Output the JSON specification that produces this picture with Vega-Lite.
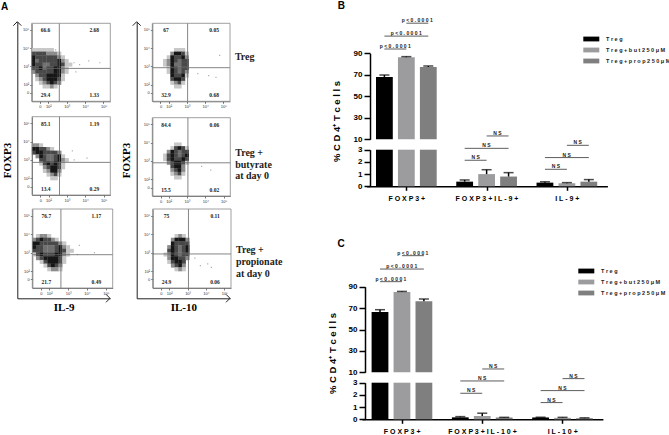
{
"$schema":"https://vega.github.io/schema/vega-lite/v6.json",
"width":669,"height":435,"autosize":{"type":"none"},"padding":0,"background":"white",
"config":{"view":{"stroke":null},"axis":{"grid":false,"title":null,"labelFontSize":4,"labelFont":"Liberation Sans","labelColor":"#333","tickSize":2,"tickWidth":0.6,"tickColor":"#222","domainColor":"#222","domainWidth":0.6,"labelPadding":1}},
"datasets":{
"cells":[
{"p":1,"x":1.2,"y":3.9,"d":1},{"p":1,"x":1.4,"y":3.9,"d":1},{"p":1,"x":1.6,"y":3.9,"d":1},{"p":1,"x":1.8,"y":3.9,"d":1},{"p":1,"x":2.0,"y":3.9,"d":1},{"p":1,"x":2.2,"y":3.9,"d":1},{"p":1,"x":2.4,"y":3.9,"d":0},
{"p":1,"x":1.2,"y":3.7,"d":3},{"p":1,"x":1.4,"y":3.7,"d":3},{"p":1,"x":1.6,"y":3.7,"d":3},{"p":1,"x":1.8,"y":3.7,"d":3},{"p":1,"x":2.0,"y":3.7,"d":2},{"p":1,"x":2.2,"y":3.7,"d":2},{"p":1,"x":2.4,"y":3.7,"d":2},{"p":1,"x":2.6,"y":3.7,"d":1},
{"p":1,"x":1.2,"y":3.5,"d":4},{"p":1,"x":1.4,"y":3.5,"d":3},{"p":1,"x":1.6,"y":3.5,"d":3},{"p":1,"x":1.8,"y":3.5,"d":3},{"p":1,"x":2.0,"y":3.5,"d":3},{"p":1,"x":2.2,"y":3.5,"d":3},{"p":1,"x":2.4,"y":3.5,"d":3},{"p":1,"x":2.6,"y":3.5,"d":2},{"p":1,"x":2.8,"y":3.5,"d":1},
{"p":1,"x":1.2,"y":3.3,"d":4},{"p":1,"x":1.4,"y":3.3,"d":5},{"p":1,"x":1.6,"y":3.3,"d":3},{"p":1,"x":1.8,"y":3.3,"d":3},{"p":1,"x":2.0,"y":3.3,"d":3},{"p":1,"x":2.2,"y":3.3,"d":3},{"p":1,"x":2.4,"y":3.3,"d":3},{"p":1,"x":2.6,"y":3.3,"d":4},{"p":1,"x":2.8,"y":3.3,"d":2},{"p":1,"x":3.0,"y":3.3,"d":1},
{"p":1,"x":1.2,"y":3.1,"d":4},{"p":1,"x":1.4,"y":3.1,"d":3},{"p":1,"x":1.6,"y":3.1,"d":3},{"p":1,"x":1.8,"y":3.1,"d":5},{"p":1,"x":2.0,"y":3.1,"d":5},{"p":1,"x":2.2,"y":3.1,"d":3},{"p":1,"x":2.4,"y":3.1,"d":3},{"p":1,"x":2.6,"y":3.1,"d":4},{"p":1,"x":2.8,"y":3.1,"d":3},{"p":1,"x":3.0,"y":3.1,"d":1},{"p":1,"x":3.2,"y":3.1,"d":1},
{"p":1,"x":1.2,"y":2.9,"d":3},{"p":1,"x":1.4,"y":2.9,"d":3},{"p":1,"x":1.6,"y":2.9,"d":4},{"p":1,"x":1.8,"y":2.9,"d":5},{"p":1,"x":2.0,"y":2.9,"d":3},{"p":1,"x":2.2,"y":2.9,"d":3},{"p":1,"x":2.4,"y":2.9,"d":4},{"p":1,"x":2.6,"y":2.9,"d":4},{"p":1,"x":2.8,"y":2.9,"d":2},{"p":1,"x":3.0,"y":2.9,"d":1},
{"p":1,"x":1.2,"y":2.7,"d":2},{"p":1,"x":1.4,"y":2.7,"d":3},{"p":1,"x":1.6,"y":2.7,"d":3},{"p":1,"x":1.8,"y":2.7,"d":3},{"p":1,"x":2.0,"y":2.7,"d":3},{"p":1,"x":2.2,"y":2.7,"d":3},{"p":1,"x":2.4,"y":2.7,"d":4},{"p":1,"x":2.6,"y":2.7,"d":4},{"p":1,"x":2.8,"y":2.7,"d":2},{"p":1,"x":3.0,"y":2.7,"d":1},
{"p":1,"x":1.4,"y":2.5,"d":2},{"p":1,"x":1.6,"y":2.5,"d":3},{"p":1,"x":1.8,"y":2.5,"d":3},{"p":1,"x":2.0,"y":2.5,"d":4},{"p":1,"x":2.2,"y":2.5,"d":4},{"p":1,"x":2.4,"y":2.5,"d":4},{"p":1,"x":2.6,"y":2.5,"d":4},{"p":1,"x":2.8,"y":2.5,"d":1},
{"p":1,"x":1.4,"y":2.3,"d":1},{"p":1,"x":1.6,"y":2.3,"d":2},{"p":1,"x":1.8,"y":2.3,"d":3},{"p":1,"x":2.0,"y":2.3,"d":4},{"p":1,"x":2.2,"y":2.3,"d":4},{"p":1,"x":2.4,"y":2.3,"d":4},{"p":1,"x":2.6,"y":2.3,"d":3},{"p":1,"x":2.8,"y":2.3,"d":1},
{"p":1,"x":1.6,"y":2.1,"d":1},{"p":1,"x":1.8,"y":2.1,"d":2},{"p":1,"x":2.0,"y":2.1,"d":3},{"p":1,"x":2.2,"y":2.1,"d":4},{"p":1,"x":2.4,"y":2.1,"d":3},{"p":1,"x":2.6,"y":2.1,"d":2},
{"p":1,"x":1.8,"y":1.9,"d":1},{"p":1,"x":2.0,"y":1.9,"d":1},{"p":1,"x":2.2,"y":1.9,"d":2},{"p":1,"x":2.4,"y":1.9,"d":1},
{"p":1,"x":3.4,"y":3.2,"d":0},{"p":1,"x":3.7,"y":3.1,"d":0},{"p":1,"x":4.2,"y":3.3,"d":0},{"p":1,"x":4.8,"y":3.2,"d":0},{"p":1,"x":3.5,"y":2.7,"d":0},
{"p":2,"x":2.4,"y":3.9,"d":1},{"p":2,"x":2.6,"y":3.9,"d":1},{"p":2,"x":2.8,"y":3.9,"d":1},
{"p":2,"x":2.2,"y":3.7,"d":2},{"p":2,"x":2.4,"y":3.7,"d":4},{"p":2,"x":2.6,"y":3.7,"d":4},{"p":2,"x":2.8,"y":3.7,"d":3},{"p":2,"x":3.0,"y":3.7,"d":1},
{"p":2,"x":2.0,"y":3.5,"d":1},{"p":2,"x":2.2,"y":3.5,"d":4},{"p":2,"x":2.4,"y":3.5,"d":3},{"p":2,"x":2.6,"y":3.5,"d":3},{"p":2,"x":2.8,"y":3.5,"d":4},{"p":2,"x":3.0,"y":3.5,"d":2},
{"p":2,"x":1.8,"y":3.3,"d":1},{"p":2,"x":2.0,"y":3.3,"d":2},{"p":2,"x":2.2,"y":3.3,"d":4},{"p":2,"x":2.4,"y":3.3,"d":3},{"p":2,"x":2.6,"y":3.3,"d":5},{"p":2,"x":2.8,"y":3.3,"d":3},{"p":2,"x":3.0,"y":3.3,"d":3},
{"p":2,"x":1.8,"y":3.1,"d":1},{"p":2,"x":2.0,"y":3.1,"d":2},{"p":2,"x":2.2,"y":3.1,"d":4},{"p":2,"x":2.4,"y":3.1,"d":5},{"p":2,"x":2.6,"y":3.1,"d":5},{"p":2,"x":2.8,"y":3.1,"d":3},{"p":2,"x":3.0,"y":3.1,"d":3},
{"p":2,"x":2.0,"y":2.9,"d":1},{"p":2,"x":2.2,"y":2.9,"d":4},{"p":2,"x":2.4,"y":2.9,"d":3},{"p":2,"x":2.6,"y":2.9,"d":5},{"p":2,"x":2.8,"y":2.9,"d":3},{"p":2,"x":3.0,"y":2.9,"d":3},
{"p":2,"x":2.0,"y":2.7,"d":1},{"p":2,"x":2.2,"y":2.7,"d":4},{"p":2,"x":2.4,"y":2.7,"d":3},{"p":2,"x":2.6,"y":2.7,"d":5},{"p":2,"x":2.8,"y":2.7,"d":3},{"p":2,"x":3.0,"y":2.7,"d":2},
{"p":2,"x":2.2,"y":2.5,"d":4},{"p":2,"x":2.4,"y":2.5,"d":3},{"p":2,"x":2.6,"y":2.5,"d":3},{"p":2,"x":2.8,"y":2.5,"d":4},{"p":2,"x":3.0,"y":2.5,"d":1},
{"p":2,"x":2.2,"y":2.3,"d":3},{"p":2,"x":2.4,"y":2.3,"d":4},{"p":2,"x":2.6,"y":2.3,"d":4},{"p":2,"x":2.8,"y":2.3,"d":3},
{"p":2,"x":2.2,"y":2.1,"d":1},{"p":2,"x":2.4,"y":2.1,"d":2},{"p":2,"x":2.6,"y":2.1,"d":3},{"p":2,"x":2.8,"y":2.1,"d":1},
{"p":2,"x":2.4,"y":1.9,"d":1},{"p":2,"x":2.6,"y":1.9,"d":1},
{"p":2,"x":4.2,"y":2.5,"d":0},{"p":2,"x":4.6,"y":2.4,"d":0},{"p":2,"x":3.6,"y":2.6,"d":0},{"p":2,"x":4.8,"y":3.6,"d":0},
{"p":3,"x":1.2,"y":3.8,"d":2},{"p":3,"x":1.4,"y":3.8,"d":2},{"p":3,"x":1.6,"y":3.8,"d":1},
{"p":3,"x":1.2,"y":3.6,"d":4},{"p":3,"x":1.4,"y":3.6,"d":4},{"p":3,"x":1.6,"y":3.6,"d":3},{"p":3,"x":1.8,"y":3.6,"d":3},{"p":3,"x":2.0,"y":3.6,"d":2},{"p":3,"x":2.2,"y":3.6,"d":1},
{"p":3,"x":1.2,"y":3.4,"d":3},{"p":3,"x":1.4,"y":3.4,"d":4},{"p":3,"x":1.6,"y":3.4,"d":4},{"p":3,"x":1.8,"y":3.4,"d":3},{"p":3,"x":2.0,"y":3.4,"d":3},{"p":3,"x":2.2,"y":3.4,"d":3},{"p":3,"x":2.4,"y":3.4,"d":3},{"p":3,"x":2.6,"y":3.4,"d":2},
{"p":3,"x":1.4,"y":3.2,"d":2},{"p":3,"x":1.6,"y":3.2,"d":4},{"p":3,"x":1.8,"y":3.2,"d":3},{"p":3,"x":2.0,"y":3.2,"d":5},{"p":3,"x":2.2,"y":3.2,"d":5},{"p":3,"x":2.4,"y":3.2,"d":3},{"p":3,"x":2.6,"y":3.2,"d":4},{"p":3,"x":2.8,"y":3.2,"d":1},
{"p":3,"x":1.6,"y":3.0,"d":3},{"p":3,"x":1.8,"y":3.0,"d":3},{"p":3,"x":2.0,"y":3.0,"d":5},{"p":3,"x":2.2,"y":3.0,"d":5},{"p":3,"x":2.4,"y":3.0,"d":3},{"p":3,"x":2.6,"y":3.0,"d":4},{"p":3,"x":2.8,"y":3.0,"d":2},{"p":3,"x":3.0,"y":3.0,"d":1},
{"p":3,"x":1.6,"y":2.8,"d":1},{"p":3,"x":1.8,"y":2.8,"d":3},{"p":3,"x":2.0,"y":2.8,"d":4},{"p":3,"x":2.2,"y":2.8,"d":3},{"p":3,"x":2.4,"y":2.8,"d":4},{"p":3,"x":2.6,"y":2.8,"d":3},{"p":3,"x":2.8,"y":2.8,"d":1},
{"p":3,"x":1.8,"y":2.6,"d":2},{"p":3,"x":2.0,"y":2.6,"d":3},{"p":3,"x":2.2,"y":2.6,"d":4},{"p":3,"x":2.4,"y":2.6,"d":4},{"p":3,"x":2.6,"y":2.6,"d":3},{"p":3,"x":2.8,"y":2.6,"d":1},
{"p":3,"x":1.8,"y":2.4,"d":1},{"p":3,"x":2.0,"y":2.4,"d":2},{"p":3,"x":2.2,"y":2.4,"d":4},{"p":3,"x":2.4,"y":2.4,"d":4},{"p":3,"x":2.6,"y":2.4,"d":2},
{"p":3,"x":2.0,"y":2.2,"d":1},{"p":3,"x":2.2,"y":2.2,"d":2},{"p":3,"x":2.4,"y":2.2,"d":3},{"p":3,"x":2.6,"y":2.2,"d":1},
{"p":3,"x":2.2,"y":2.0,"d":1},{"p":3,"x":2.4,"y":2.0,"d":1},
{"p":3,"x":3.4,"y":3.0,"d":0},{"p":3,"x":3.3,"y":3.5,"d":0},{"p":3,"x":4.1,"y":3.1,"d":0},
{"p":4,"x":2.4,"y":3.9,"d":1},{"p":4,"x":2.6,"y":3.9,"d":1},
{"p":4,"x":2.2,"y":3.7,"d":1},{"p":4,"x":2.4,"y":3.7,"d":3},{"p":4,"x":2.6,"y":3.7,"d":4},{"p":4,"x":2.8,"y":3.7,"d":3},{"p":4,"x":3.0,"y":3.7,"d":1},
{"p":4,"x":2.0,"y":3.5,"d":2},{"p":4,"x":2.2,"y":3.5,"d":4},{"p":4,"x":2.4,"y":3.5,"d":3},{"p":4,"x":2.6,"y":3.5,"d":5},{"p":4,"x":2.8,"y":3.5,"d":3},{"p":4,"x":3.0,"y":3.5,"d":3},
{"p":4,"x":1.8,"y":3.3,"d":1},{"p":4,"x":2.0,"y":3.3,"d":3},{"p":4,"x":2.2,"y":3.3,"d":4},{"p":4,"x":2.4,"y":3.3,"d":3},{"p":4,"x":2.6,"y":3.3,"d":5},{"p":4,"x":2.8,"y":3.3,"d":3},{"p":4,"x":3.0,"y":3.3,"d":4},
{"p":4,"x":1.8,"y":3.1,"d":1},{"p":4,"x":2.0,"y":3.1,"d":3},{"p":4,"x":2.2,"y":3.1,"d":4},{"p":4,"x":2.4,"y":3.1,"d":3},{"p":4,"x":2.6,"y":3.1,"d":3},{"p":4,"x":2.8,"y":3.1,"d":4},{"p":4,"x":3.0,"y":3.1,"d":3},
{"p":4,"x":2.0,"y":2.9,"d":2},{"p":4,"x":2.2,"y":2.9,"d":3},{"p":4,"x":2.4,"y":2.9,"d":4},{"p":4,"x":2.6,"y":2.9,"d":4},{"p":4,"x":2.8,"y":2.9,"d":3},{"p":4,"x":3.0,"y":2.9,"d":1},
{"p":4,"x":2.2,"y":2.7,"d":3},{"p":4,"x":2.4,"y":2.7,"d":4},{"p":4,"x":2.6,"y":2.7,"d":4},{"p":4,"x":2.8,"y":2.7,"d":2},
{"p":4,"x":2.2,"y":2.5,"d":2},{"p":4,"x":2.4,"y":2.5,"d":3},{"p":4,"x":2.6,"y":2.5,"d":4},{"p":4,"x":2.8,"y":2.5,"d":2},
{"p":4,"x":2.2,"y":2.3,"d":1},{"p":4,"x":2.4,"y":2.3,"d":2},{"p":4,"x":2.6,"y":2.3,"d":3},{"p":4,"x":2.8,"y":2.3,"d":1},
{"p":4,"x":2.4,"y":2.1,"d":1},{"p":4,"x":2.6,"y":2.1,"d":1},
{"p":4,"x":4.3,"y":2.5,"d":0},{"p":4,"x":3.8,"y":2.7,"d":0},
{"p":5,"x":1.4,"y":3.9,"d":1},{"p":5,"x":1.6,"y":3.9,"d":2},{"p":5,"x":1.8,"y":3.9,"d":2},{"p":5,"x":2.0,"y":3.9,"d":1},
{"p":5,"x":1.2,"y":3.7,"d":2},{"p":5,"x":1.4,"y":3.7,"d":3},{"p":5,"x":1.6,"y":3.7,"d":4},{"p":5,"x":1.8,"y":3.7,"d":3},{"p":5,"x":2.0,"y":3.7,"d":3},{"p":5,"x":2.2,"y":3.7,"d":2},{"p":5,"x":2.4,"y":3.7,"d":1},
{"p":5,"x":1.2,"y":3.5,"d":4},{"p":5,"x":1.4,"y":3.5,"d":4},{"p":5,"x":1.6,"y":3.5,"d":3},{"p":5,"x":1.8,"y":3.5,"d":3},{"p":5,"x":2.0,"y":3.5,"d":3},{"p":5,"x":2.2,"y":3.5,"d":3},{"p":5,"x":2.4,"y":3.5,"d":3},{"p":5,"x":2.6,"y":3.5,"d":2},{"p":5,"x":2.8,"y":3.5,"d":1},
{"p":5,"x":1.2,"y":3.3,"d":4},{"p":5,"x":1.4,"y":3.3,"d":3},{"p":5,"x":1.6,"y":3.3,"d":3},{"p":5,"x":1.8,"y":3.3,"d":5},{"p":5,"x":2.0,"y":3.3,"d":5},{"p":5,"x":2.2,"y":3.3,"d":5},{"p":5,"x":2.4,"y":3.3,"d":3},{"p":5,"x":2.6,"y":3.3,"d":4},{"p":5,"x":2.8,"y":3.3,"d":2},{"p":5,"x":3.0,"y":3.3,"d":1},
{"p":5,"x":1.2,"y":3.1,"d":3},{"p":5,"x":1.4,"y":3.1,"d":3},{"p":5,"x":1.6,"y":3.1,"d":3},{"p":5,"x":1.8,"y":3.1,"d":5},{"p":5,"x":2.0,"y":3.1,"d":5},{"p":5,"x":2.2,"y":3.1,"d":5},{"p":5,"x":2.4,"y":3.1,"d":3},{"p":5,"x":2.6,"y":3.1,"d":4},{"p":5,"x":2.8,"y":3.1,"d":3},{"p":5,"x":3.0,"y":3.1,"d":1},{"p":5,"x":3.2,"y":3.1,"d":1},
{"p":5,"x":1.2,"y":2.9,"d":1},{"p":5,"x":1.4,"y":2.9,"d":3},{"p":5,"x":1.6,"y":2.9,"d":4},{"p":5,"x":1.8,"y":2.9,"d":3},{"p":5,"x":2.0,"y":2.9,"d":3},{"p":5,"x":2.2,"y":2.9,"d":3},{"p":5,"x":2.4,"y":2.9,"d":4},{"p":5,"x":2.6,"y":2.9,"d":4},{"p":5,"x":2.8,"y":2.9,"d":2},{"p":5,"x":3.0,"y":2.9,"d":1},
{"p":5,"x":1.4,"y":2.7,"d":2},{"p":5,"x":1.6,"y":2.7,"d":3},{"p":5,"x":1.8,"y":2.7,"d":4},{"p":5,"x":2.0,"y":2.7,"d":4},{"p":5,"x":2.2,"y":2.7,"d":4},{"p":5,"x":2.4,"y":2.7,"d":4},{"p":5,"x":2.6,"y":2.7,"d":3},{"p":5,"x":2.8,"y":2.7,"d":1},
{"p":5,"x":1.6,"y":2.5,"d":1},{"p":5,"x":1.8,"y":2.5,"d":3},{"p":5,"x":2.0,"y":2.5,"d":4},{"p":5,"x":2.2,"y":2.5,"d":4},{"p":5,"x":2.4,"y":2.5,"d":4},{"p":5,"x":2.6,"y":2.5,"d":3},{"p":5,"x":2.8,"y":2.5,"d":1},
{"p":5,"x":1.8,"y":2.3,"d":1},{"p":5,"x":2.0,"y":2.3,"d":3},{"p":5,"x":2.2,"y":2.3,"d":4},{"p":5,"x":2.4,"y":2.3,"d":3},{"p":5,"x":2.6,"y":2.3,"d":2},
{"p":5,"x":2.0,"y":2.1,"d":1},{"p":5,"x":2.2,"y":2.1,"d":2},{"p":5,"x":2.4,"y":2.1,"d":2},{"p":5,"x":2.6,"y":2.1,"d":1},
{"p":5,"x":3.5,"y":2.9,"d":0},{"p":5,"x":3.6,"y":3.4,"d":0},{"p":5,"x":4.4,"y":3.0,"d":0},
{"p":6,"x":2.4,"y":3.9,"d":1},{"p":6,"x":2.6,"y":3.9,"d":2},{"p":6,"x":2.8,"y":3.9,"d":1},
{"p":6,"x":2.2,"y":3.7,"d":2},{"p":6,"x":2.4,"y":3.7,"d":4},{"p":6,"x":2.6,"y":3.7,"d":4},{"p":6,"x":2.8,"y":3.7,"d":4},{"p":6,"x":3.0,"y":3.7,"d":2},
{"p":6,"x":2.2,"y":3.5,"d":4},{"p":6,"x":2.4,"y":3.5,"d":3},{"p":6,"x":2.6,"y":3.5,"d":3},{"p":6,"x":2.8,"y":3.5,"d":3},{"p":6,"x":3.0,"y":3.5,"d":3},
{"p":6,"x":2.0,"y":3.3,"d":2},{"p":6,"x":2.2,"y":3.3,"d":4},{"p":6,"x":2.4,"y":3.3,"d":3},{"p":6,"x":2.6,"y":3.3,"d":5},{"p":6,"x":2.8,"y":3.3,"d":3},{"p":6,"x":3.0,"y":3.3,"d":4},
{"p":6,"x":2.0,"y":3.1,"d":3},{"p":6,"x":2.2,"y":3.1,"d":4},{"p":6,"x":2.4,"y":3.1,"d":3},{"p":6,"x":2.6,"y":3.1,"d":5},{"p":6,"x":2.8,"y":3.1,"d":3},{"p":6,"x":3.0,"y":3.1,"d":4},
{"p":6,"x":1.8,"y":2.9,"d":1},{"p":6,"x":2.0,"y":2.9,"d":2},{"p":6,"x":2.2,"y":2.9,"d":4},{"p":6,"x":2.4,"y":2.9,"d":3},{"p":6,"x":2.6,"y":2.9,"d":5},{"p":6,"x":2.8,"y":2.9,"d":3},{"p":6,"x":3.0,"y":2.9,"d":3},
{"p":6,"x":2.0,"y":2.7,"d":2},{"p":6,"x":2.2,"y":2.7,"d":4},{"p":6,"x":2.4,"y":2.7,"d":4},{"p":6,"x":2.6,"y":2.7,"d":3},{"p":6,"x":2.8,"y":2.7,"d":3},{"p":6,"x":3.0,"y":2.7,"d":2},
{"p":6,"x":2.0,"y":2.5,"d":1},{"p":6,"x":2.2,"y":2.5,"d":3},{"p":6,"x":2.4,"y":2.5,"d":4},{"p":6,"x":2.6,"y":2.5,"d":4},{"p":6,"x":2.8,"y":2.5,"d":3},
{"p":6,"x":2.2,"y":2.3,"d":2},{"p":6,"x":2.4,"y":2.3,"d":3},{"p":6,"x":2.6,"y":2.3,"d":4},{"p":6,"x":2.8,"y":2.3,"d":2},
{"p":6,"x":2.4,"y":2.1,"d":1},{"p":6,"x":2.6,"y":2.1,"d":2},{"p":6,"x":2.8,"y":2.1,"d":1},
{"p":6,"x":4.1,"y":2.4,"d":0},{"p":6,"x":3.7,"y":2.3,"d":0},{"p":6,"x":4.3,"y":2.2,"d":0},{"p":6,"x":3.4,"y":2.7,"d":0}
],
"quadrants":[
{"p":1,"q":"UL","pct":"66.6"},{"p":1,"q":"UR","pct":"2.68"},{"p":1,"q":"LL","pct":"29.4"},{"p":1,"q":"LR","pct":"1.33"},
{"p":2,"q":"UL","pct":"67"},{"p":2,"q":"UR","pct":"0.05"},{"p":2,"q":"LL","pct":"32.9"},{"p":2,"q":"LR","pct":"0.68"},
{"p":3,"q":"UL","pct":"85.1"},{"p":3,"q":"UR","pct":"1.19"},{"p":3,"q":"LL","pct":"13.4"},{"p":3,"q":"LR","pct":"0.29"},
{"p":4,"q":"UL","pct":"84.4"},{"p":4,"q":"UR","pct":"0.06"},{"p":4,"q":"LL","pct":"15.5"},{"p":4,"q":"LR","pct":"0.02"},
{"p":5,"q":"UL","pct":"76.7"},{"p":5,"q":"UR","pct":"1.17"},{"p":5,"q":"LL","pct":"21.7"},{"p":5,"q":"LR","pct":"0.49"},
{"p":6,"q":"UL","pct":"75"},{"p":6,"q":"UR","pct":"0.11"},{"p":6,"q":"LL","pct":"24.9"},{"p":6,"q":"LR","pct":"0.06"}
],
"gates":[
{"p":1,"x":2.6,"x2":2.6,"y":1.09,"y2":5.36},{"p":1,"x":1.1,"x2":5.37,"y":2.89,"y2":2.89},
{"p":2,"x":3.04,"x2":3.04,"y":1.09,"y2":5.36},{"p":2,"x":1.1,"x2":5.37,"y":2.93,"y2":2.93},
{"p":3,"x":2.6,"x2":2.6,"y":1.09,"y2":5.36},{"p":3,"x":1.1,"x2":5.37,"y":2.87,"y2":2.87},
{"p":4,"x":3.05,"x2":3.05,"y":1.09,"y2":5.36},{"p":4,"x":1.1,"x2":5.37,"y":2.9,"y2":2.9},
{"p":5,"x":2.62,"x2":2.62,"y":1.09,"y2":5.36},{"p":5,"x":1.1,"x2":5.37,"y":2.89,"y2":2.89},
{"p":6,"x":3.05,"x2":3.05,"y":1.09,"y2":5.36},{"p":6,"x":1.1,"x2":5.37,"y":2.93,"y2":2.93}
],
"frames":[{"x":1.1,"x2":5.37,"y":1.09,"y2":5.36}],
"treatments":[
{"p":2,"label":"Treg","x":5.64,"y":3.5},
{"p":4,"label":"Treg +\nbutyrate\nat day 0","x":5.64,"y":3.44},
{"p":6,"label":"Treg +\npropionate\nat day 0","x":5.64,"y":3.13}
],
"panelA":[{"label":"A","x":-0.37,"y":6.27}],
"arrowEnds":[{"dir":"x","x":1,"y":0},{"dir":"y","x":0,"y":1}],
"bars":[
{"panel":"B","group":"FOXP3+","series":"Treg","pct":68,"hi":69.8},
{"panel":"B","group":"FOXP3+","series":"Treg+but 250μM","pct":86.3,"hi":86.9},
{"panel":"B","group":"FOXP3+","series":"Treg+prop 250μM","pct":77.3,"hi":78.2},
{"panel":"B","group":"FOXP3+IL-9+","series":"Treg","pct":0.38,"hi":0.52},
{"panel":"B","group":"FOXP3+IL-9+","series":"Treg+but 250μM","pct":1.0,"hi":1.36},
{"panel":"B","group":"FOXP3+IL-9+","series":"Treg+prop 250μM","pct":0.8,"hi":1.12},
{"panel":"B","group":"IL-9+","series":"Treg","pct":0.3,"hi":0.37},
{"panel":"B","group":"IL-9+","series":"Treg+but 250μM","pct":0.25,"hi":0.3},
{"panel":"B","group":"IL-9+","series":"Treg+prop 250μM","pct":0.38,"hi":0.55},
{"panel":"C","group":"FOXP3+","series":"Treg","pct":66.3,"hi":68.5},
{"panel":"C","group":"FOXP3+","series":"Treg+but 250μM","pct":85,"hi":85.6},
{"panel":"C","group":"FOXP3+","series":"Treg+prop 250μM","pct":76.3,"hi":78.5},
{"panel":"C","group":"FOXP3+IL-10+","series":"Treg","pct":0.16,"hi":0.22},
{"panel":"C","group":"FOXP3+IL-10+","series":"Treg+but 250μM","pct":0.27,"hi":0.5},
{"panel":"C","group":"FOXP3+IL-10+","series":"Treg+prop 250μM","pct":0.14,"hi":0.16},
{"panel":"C","group":"IL-10+","series":"Treg","pct":0.15,"hi":0.17},
{"panel":"C","group":"IL-10+","series":"Treg+but 250μM","pct":0.12,"hi":0.16},
{"panel":"C","group":"IL-10+","series":"Treg+prop 250μM","pct":0.09,"hi":0.12}
],
"brackets":[
{"panel":"B","id":1,"group":"FOXP3+","from":"Treg","to":"Treg+but 250μM","span":1,"pct":94,"label":"p<0.0001"},
{"panel":"B","id":2,"group":"FOXP3+","from":"Treg","to":"Treg+prop 250μM","span":2,"pct":106,"label":"p<0.0001"},
{"panel":"B","id":3,"group":"FOXP3+","from":"Treg+but 250μM","to":"Treg+prop 250μM","span":1,"pct":118,"label":"p<0.0001"},
{"panel":"B","id":4,"group":"FOXP3+IL-9+","from":"Treg","to":"Treg+but 250μM","span":1,"pct":-9.5,"label":"NS"},
{"panel":"B","id":5,"group":"FOXP3+IL-9+","from":"Treg","to":"Treg+prop 250μM","span":2,"pct":1.6,"label":"NS"},
{"panel":"B","id":6,"group":"FOXP3+IL-9+","from":"Treg+but 250μM","to":"Treg+prop 250μM","span":1,"pct":13.1,"label":"NS"},
{"panel":"B","id":7,"group":"IL-9+","from":"Treg","to":"Treg+but 250μM","span":1,"pct":-17.9,"label":"NS"},
{"panel":"B","id":8,"group":"IL-9+","from":"Treg","to":"Treg+prop 250μM","span":2,"pct":-7,"label":"NS"},
{"panel":"B","id":9,"group":"IL-9+","from":"Treg+but 250μM","to":"Treg+prop 250μM","span":1,"pct":4.4,"label":"NS"},
{"panel":"C","id":11,"group":"FOXP3+","from":"Treg","to":"Treg+but 250μM","span":1,"pct":94.7,"label":"p<0.0001"},
{"panel":"C","id":12,"group":"FOXP3+","from":"Treg","to":"Treg+prop 250μM","span":2,"pct":106.5,"label":"p<0.0001"},
{"panel":"C","id":13,"group":"FOXP3+","from":"Treg+but 250μM","to":"Treg+prop 250μM","span":1,"pct":119,"label":"p<0.0001"},
{"panel":"C","id":14,"group":"FOXP3+IL-10+","from":"Treg","to":"Treg+but 250μM","span":1,"pct":-9.6,"label":"NS"},
{"panel":"C","id":15,"group":"FOXP3+IL-10+","from":"Treg","to":"Treg+prop 250μM","span":2,"pct":1.9,"label":"NS"},
{"panel":"C","id":16,"group":"FOXP3+IL-10+","from":"Treg+but 250μM","to":"Treg+prop 250μM","span":1,"pct":13.1,"label":"NS"},
{"panel":"C","id":17,"group":"IL-10+","from":"Treg","to":"Treg+but 250μM","span":1,"pct":-18.3,"label":"NS"},
{"panel":"C","id":18,"group":"IL-10+","from":"Treg","to":"Treg+prop 250μM","span":2,"pct":-7.1,"label":"NS"},
{"panel":"C","id":19,"group":"IL-10+","from":"Treg+but 250μM","to":"Treg+prop 250μM","span":1,"pct":4.1,"label":"NS"}
],
"letters":[
{"panel":"B","group":"FOXP3+","from":"Treg","pct":134,"label":"B"},
{"panel":"C","group":"FOXP3+","from":"Treg","pct":129.6,"label":"C"}
]
},
"resolve":{"scale":{"x":"independent","y":"independent","xOffset":"independent","color":"independent"},"axis":{"x":"independent","y":"independent"},"legend":{"color":"independent"}},
"layer":[
{"encoding":{
"x":{"field":"x","type":"quantitative","scale":{"domain":[0,1],"range":[17.3,110]},"axis":{"orient":"bottom","offset":-136.7,"labels":false,"ticks":false,"title":"IL-9","titleFont":"Liberation Serif","titleFontWeight":"bold","titleFontSize":11,"titlePadding":3,"domainWidth":1}},
"y":{"field":"y","type":"quantitative","scale":{"domain":[0,1],"range":[298.3,21.7]},"axis":{"orient":"left","offset":-17.3,"labels":false,"ticks":false,"title":"FOXP3","titleFont":"Liberation Serif","titleFontWeight":"bold","titleFontSize":11,"titlePadding":5,"domainWidth":1}}},
"layer":[
{"data":{"name":"arrowEnds"},"transform":[{"filter":"datum.dir=='x'"}],"mark":{"type":"point","shape":"M-1,-1L0,0L-1,1","size":64,"stroke":"#222","strokeWidth":1,"opacity":1}},
{"data":{"name":"arrowEnds"},"transform":[{"filter":"datum.dir=='y'"}],"mark":{"type":"point","shape":"M-1,1L0,0L1,1","size":64,"stroke":"#222","strokeWidth":1,"opacity":1}}
]},
{"encoding":{
"x":{"field":"x","type":"quantitative","scale":{"domain":[0,1],"range":[136.7,230]},"axis":{"orient":"bottom","offset":-136.7,"labels":false,"ticks":false,"title":"IL-10","titleFont":"Liberation Serif","titleFontWeight":"bold","titleFontSize":11,"titlePadding":3,"domainWidth":1}},
"y":{"field":"y","type":"quantitative","scale":{"domain":[0,1],"range":[298.3,21.7]},"axis":{"orient":"left","offset":-136.7,"labels":false,"ticks":false,"title":"FOXP3","titleFont":"Liberation Serif","titleFontWeight":"bold","titleFontSize":11,"titlePadding":5,"domainWidth":1}}},
"layer":[
{"data":{"name":"arrowEnds"},"transform":[{"filter":"datum.dir=='x'"}],"mark":{"type":"point","shape":"M-1,-1L0,0L-1,1","size":64,"stroke":"#222","strokeWidth":1,"opacity":1}},
{"data":{"name":"arrowEnds"},"transform":[{"filter":"datum.dir=='y'"}],"mark":{"type":"point","shape":"M-1,1L0,0L1,1","size":64,"stroke":"#222","strokeWidth":1,"opacity":1}}
]},
{"encoding":{
"x":{"field":"x","type":"quantitative","scale":{"domain":[1.1,5.37],"range":[31.7,110.3]},"axis":{"orient":"bottom","offset":-333.7,"values":[1.55,2,3,4,5],"labelExpr":"datum.value<1.7?'0':datum.value==2?'10²':datum.value==3?'10³':datum.value==4?'10⁴':'10⁵'"}},
"y":{"field":"y","type":"quantitative","scale":{"domain":[1.09,5.36],"range":[101.3,23.3]},"axis":{"orient":"left","offset":-31.7,"values":[1.55,2,3,4,5],"labelExpr":"datum.value<1.7?'0':datum.value==2?'10²':datum.value==3?'10³':datum.value==4?'10⁴':'10⁵'"}}},
"layer":[
{"data":{"name":"cells"},"transform":[{"filter":"datum.p==1&&datum.d>0"}],"mark":{"type":"square","size":16,"opacity":1},"encoding":{"color":{"field":"d","type":"ordinal","scale":{"domain":[1,2,3,4,5],"range":["#c8c8c8","#8c8c8c","#484848","#161616","#707070"]},"legend":null}}},
{"data":{"name":"cells"},"transform":[{"filter":"datum.p==1&&datum.d==0"}],"mark":{"type":"square","size":1.5,"opacity":1,"color":"#b0b0b0"}},
{"data":{"name":"gates"},"transform":[{"filter":"datum.p==1"}],"mark":{"type":"rule","color":"#666","strokeWidth":0.8},"encoding":{"x2":{"field":"x2"},"y2":{"field":"y2"}}},
{"data":{"name":"frames"},"mark":{"type":"rect","fillOpacity":0,"stroke":"#888","strokeWidth":0.8},"encoding":{"x2":{"field":"x2"},"y2":{"field":"y2"}}},
{"data":{"name":"quadrants"},"transform":[{"filter":"datum.p==1"},{"calculate":"datum.q[1]=='L'?1.85:4.5","as":"x"},{"calculate":"datum.q[0]=='U'?4.98:1.42","as":"y"}],"mark":{"type":"text","font":"Liberation Serif","fontWeight":"bold","fontSize":5.5,"color":"#222"},"encoding":{"text":{"field":"pct"}}},
{"data":{"name":"panelA"},"mark":{"type":"text","font":"Liberation Sans","fontWeight":"bold","fontSize":10,"color":"black"},"encoding":{"text":{"field":"label"}}}
]},
{"encoding":{
"x":{"field":"x","type":"quantitative","scale":{"domain":[1.1,5.37],"range":[152.3,230]},"axis":{"orient":"bottom","offset":-333.7,"values":[1.55,2,3,4,5],"labelExpr":"datum.value<1.7?'0':datum.value==2?'10²':datum.value==3?'10³':datum.value==4?'10⁴':'10⁵'"}},
"y":{"field":"y","type":"quantitative","scale":{"domain":[1.09,5.36],"range":[101.3,23.3]},"axis":{"orient":"left","offset":-152.3,"values":[1.55,2,3,4,5],"labelExpr":"datum.value<1.7?'0':datum.value==2?'10²':datum.value==3?'10³':datum.value==4?'10⁴':'10⁵'"}}},
"layer":[
{"data":{"name":"cells"},"transform":[{"filter":"datum.p==2&&datum.d>0"}],"mark":{"type":"square","size":16,"opacity":1},"encoding":{"color":{"field":"d","type":"ordinal","scale":{"domain":[1,2,3,4,5],"range":["#c8c8c8","#8c8c8c","#484848","#161616","#707070"]},"legend":null}}},
{"data":{"name":"cells"},"transform":[{"filter":"datum.p==2&&datum.d==0"}],"mark":{"type":"square","size":1.5,"opacity":1,"color":"#b0b0b0"}},
{"data":{"name":"gates"},"transform":[{"filter":"datum.p==2"}],"mark":{"type":"rule","color":"#666","strokeWidth":0.8},"encoding":{"x2":{"field":"x2"},"y2":{"field":"y2"}}},
{"data":{"name":"frames"},"mark":{"type":"rect","fillOpacity":0,"stroke":"#888","strokeWidth":0.8},"encoding":{"x2":{"field":"x2"},"y2":{"field":"y2"}}},
{"data":{"name":"quadrants"},"transform":[{"filter":"datum.p==2"},{"calculate":"datum.q[1]=='L'?1.85:4.5","as":"x"},{"calculate":"datum.q[0]=='U'?4.98:1.42","as":"y"}],"mark":{"type":"text","font":"Liberation Serif","fontWeight":"bold","fontSize":5.5,"color":"#222"},"encoding":{"text":{"field":"pct"}}},
{"data":{"name":"treatments"},"transform":[{"filter":"datum.p==2"}],"mark":{"type":"text","font":"Liberation Serif","fontWeight":"bold","fontSize":10,"align":"left","lineBreak":"\n","lineHeight":11.7,"color":"#222"},"encoding":{"text":{"field":"label"}}}
]},
{"encoding":{
"x":{"field":"x","type":"quantitative","scale":{"domain":[1.1,5.37],"range":[32,110.3]},"axis":{"orient":"bottom","offset":-240,"values":[1.55,2,3,4,5],"labelExpr":"datum.value<1.7?'0':datum.value==2?'10²':datum.value==3?'10³':datum.value==4?'10⁴':'10⁵'"}},
"y":{"field":"y","type":"quantitative","scale":{"domain":[1.09,5.36],"range":[195,116.7]},"axis":{"orient":"left","offset":-32,"values":[1.55,2,3,4,5],"labelExpr":"datum.value<1.7?'0':datum.value==2?'10²':datum.value==3?'10³':datum.value==4?'10⁴':'10⁵'"}}},
"layer":[
{"data":{"name":"cells"},"transform":[{"filter":"datum.p==3&&datum.d>0"}],"mark":{"type":"square","size":16,"opacity":1},"encoding":{"color":{"field":"d","type":"ordinal","scale":{"domain":[1,2,3,4,5],"range":["#c8c8c8","#8c8c8c","#484848","#161616","#707070"]},"legend":null}}},
{"data":{"name":"cells"},"transform":[{"filter":"datum.p==3&&datum.d==0"}],"mark":{"type":"square","size":1.5,"opacity":1,"color":"#b0b0b0"}},
{"data":{"name":"gates"},"transform":[{"filter":"datum.p==3"}],"mark":{"type":"rule","color":"#666","strokeWidth":0.8},"encoding":{"x2":{"field":"x2"},"y2":{"field":"y2"}}},
{"data":{"name":"frames"},"mark":{"type":"rect","fillOpacity":0,"stroke":"#888","strokeWidth":0.8},"encoding":{"x2":{"field":"x2"},"y2":{"field":"y2"}}},
{"data":{"name":"quadrants"},"transform":[{"filter":"datum.p==3"},{"calculate":"datum.q[1]=='L'?1.85:4.5","as":"x"},{"calculate":"datum.q[0]=='U'?4.98:1.42","as":"y"}],"mark":{"type":"text","font":"Liberation Serif","fontWeight":"bold","fontSize":5.5,"color":"#222"},"encoding":{"text":{"field":"pct"}}}
]},
{"encoding":{
"x":{"field":"x","type":"quantitative","scale":{"domain":[1.1,5.37],"range":[152.3,230.3]},"axis":{"orient":"bottom","offset":-239,"values":[1.55,2,3,4,5],"labelExpr":"datum.value<1.7?'0':datum.value==2?'10²':datum.value==3?'10³':datum.value==4?'10⁴':'10⁵'"}},
"y":{"field":"y","type":"quantitative","scale":{"domain":[1.09,5.36],"range":[196,117.7]},"axis":{"orient":"left","offset":-152.3,"values":[1.55,2,3,4,5],"labelExpr":"datum.value<1.7?'0':datum.value==2?'10²':datum.value==3?'10³':datum.value==4?'10⁴':'10⁵'"}}},
"layer":[
{"data":{"name":"cells"},"transform":[{"filter":"datum.p==4&&datum.d>0"}],"mark":{"type":"square","size":16,"opacity":1},"encoding":{"color":{"field":"d","type":"ordinal","scale":{"domain":[1,2,3,4,5],"range":["#c8c8c8","#8c8c8c","#484848","#161616","#707070"]},"legend":null}}},
{"data":{"name":"cells"},"transform":[{"filter":"datum.p==4&&datum.d==0"}],"mark":{"type":"square","size":1.5,"opacity":1,"color":"#b0b0b0"}},
{"data":{"name":"gates"},"transform":[{"filter":"datum.p==4"}],"mark":{"type":"rule","color":"#666","strokeWidth":0.8},"encoding":{"x2":{"field":"x2"},"y2":{"field":"y2"}}},
{"data":{"name":"frames"},"mark":{"type":"rect","fillOpacity":0,"stroke":"#888","strokeWidth":0.8},"encoding":{"x2":{"field":"x2"},"y2":{"field":"y2"}}},
{"data":{"name":"quadrants"},"transform":[{"filter":"datum.p==4"},{"calculate":"datum.q[1]=='L'?1.85:4.5","as":"x"},{"calculate":"datum.q[0]=='U'?4.98:1.42","as":"y"}],"mark":{"type":"text","font":"Liberation Serif","fontWeight":"bold","fontSize":5.5,"color":"#222"},"encoding":{"text":{"field":"pct"}}},
{"data":{"name":"treatments"},"transform":[{"filter":"datum.p==4"}],"mark":{"type":"text","font":"Liberation Serif","fontWeight":"bold","fontSize":10,"align":"left","lineBreak":"\n","lineHeight":11.7,"color":"#222"},"encoding":{"text":{"field":"label"}}}
]},
{"encoding":{
"x":{"field":"x","type":"quantitative","scale":{"domain":[1.1,5.37],"range":[32.3,112.7]},"axis":{"orient":"bottom","offset":-147,"values":[1.55,2,3,4,5],"labelExpr":"datum.value<1.7?'0':datum.value==2?'10²':datum.value==3?'10³':datum.value==4?'10⁴':'10⁵'"}},
"y":{"field":"y","type":"quantitative","scale":{"domain":[1.09,5.36],"range":[288,209]},"axis":{"orient":"left","offset":-32.3,"values":[1.55,2,3,4,5],"labelExpr":"datum.value<1.7?'0':datum.value==2?'10²':datum.value==3?'10³':datum.value==4?'10⁴':'10⁵'"}}},
"layer":[
{"data":{"name":"cells"},"transform":[{"filter":"datum.p==5&&datum.d>0"}],"mark":{"type":"square","size":16,"opacity":1},"encoding":{"color":{"field":"d","type":"ordinal","scale":{"domain":[1,2,3,4,5],"range":["#c8c8c8","#8c8c8c","#484848","#161616","#707070"]},"legend":null}}},
{"data":{"name":"cells"},"transform":[{"filter":"datum.p==5&&datum.d==0"}],"mark":{"type":"square","size":1.5,"opacity":1,"color":"#b0b0b0"}},
{"data":{"name":"gates"},"transform":[{"filter":"datum.p==5"}],"mark":{"type":"rule","color":"#666","strokeWidth":0.8},"encoding":{"x2":{"field":"x2"},"y2":{"field":"y2"}}},
{"data":{"name":"frames"},"mark":{"type":"rect","fillOpacity":0,"stroke":"#888","strokeWidth":0.8},"encoding":{"x2":{"field":"x2"},"y2":{"field":"y2"}}},
{"data":{"name":"quadrants"},"transform":[{"filter":"datum.p==5"},{"calculate":"datum.q[1]=='L'?1.85:4.5","as":"x"},{"calculate":"datum.q[0]=='U'?4.98:1.42","as":"y"}],"mark":{"type":"text","font":"Liberation Serif","fontWeight":"bold","fontSize":5.5,"color":"#222"},"encoding":{"text":{"field":"pct"}}}
]},
{"encoding":{
"x":{"field":"x","type":"quantitative","scale":{"domain":[1.1,5.37],"range":[152.7,231]},"axis":{"orient":"bottom","offset":-147,"values":[1.55,2,3,4,5],"labelExpr":"datum.value<1.7?'0':datum.value==2?'10²':datum.value==3?'10³':datum.value==4?'10⁴':'10⁵'"}},
"y":{"field":"y","type":"quantitative","scale":{"domain":[1.09,5.36],"range":[288,209]},"axis":{"orient":"left","offset":-152.7,"values":[1.55,2,3,4,5],"labelExpr":"datum.value<1.7?'0':datum.value==2?'10²':datum.value==3?'10³':datum.value==4?'10⁴':'10⁵'"}}},
"layer":[
{"data":{"name":"cells"},"transform":[{"filter":"datum.p==6&&datum.d>0"}],"mark":{"type":"square","size":16,"opacity":1},"encoding":{"color":{"field":"d","type":"ordinal","scale":{"domain":[1,2,3,4,5],"range":["#c8c8c8","#8c8c8c","#484848","#161616","#707070"]},"legend":null}}},
{"data":{"name":"cells"},"transform":[{"filter":"datum.p==6&&datum.d==0"}],"mark":{"type":"square","size":1.5,"opacity":1,"color":"#b0b0b0"}},
{"data":{"name":"gates"},"transform":[{"filter":"datum.p==6"}],"mark":{"type":"rule","color":"#666","strokeWidth":0.8},"encoding":{"x2":{"field":"x2"},"y2":{"field":"y2"}}},
{"data":{"name":"frames"},"mark":{"type":"rect","fillOpacity":0,"stroke":"#888","strokeWidth":0.8},"encoding":{"x2":{"field":"x2"},"y2":{"field":"y2"}}},
{"data":{"name":"quadrants"},"transform":[{"filter":"datum.p==6"},{"calculate":"datum.q[1]=='L'?1.85:4.5","as":"x"},{"calculate":"datum.q[0]=='U'?4.98:1.42","as":"y"}],"mark":{"type":"text","font":"Liberation Serif","fontWeight":"bold","fontSize":5.5,"color":"#222"},"encoding":{"text":{"field":"pct"}}},
{"data":{"name":"treatments"},"transform":[{"filter":"datum.p==6"}],"mark":{"type":"text","font":"Liberation Serif","fontWeight":"bold","fontSize":10,"align":"left","lineBreak":"\n","lineHeight":11.7,"color":"#222"},"encoding":{"text":{"field":"label"}}}
]},
{"encoding":{
"x":{"field":"group","type":"nominal","sort":null,"scale":{"domain":["FOXP3+","FOXP3+IL-9+","IL-9+"],"range":[366.6,607.4],"paddingInner":0,"paddingOuter":0},"axis":{"orient":"bottom","offset":-248.7,"labelAngle":0,"labelFont":"Liberation Sans","labelFontWeight":"bold","labelFontSize":7,"labelColor":"black","labelPadding":4,"tickSize":4,"tickWidth":1.5,"tickColor":"black","domainColor":"black","domainWidth":1.5,"labelExpr":"join(split(datum.label,''),' ')"}},
"xOffset":{"field":"series","type":"nominal","scale":{"domain":["Treg","Treg+but 250μM","Treg+prop 250μM"],"range":[9.4,70.1],"paddingInner":0.235,"paddingOuter":0}}
},
"resolve":{"scale":{"y":"independent"},"axis":{"y":"independent"}},
"layer":[
{"encoding":{"y":{"field":"pct","type":"quantitative","stack":null,"scale":{"domain":[10,90],"range":[139.3,53.3]},"axis":{"orient":"left","offset":-370,"values":[10,30,50,70,90],"labelFont":"Liberation Sans","labelFontWeight":"bold","labelFontSize":8,"labelColor":"black","labelPadding":2,"tickSize":6,"tickWidth":1.5,"tickColor":"black","domainColor":"black","domainWidth":1.5,"title":"% C D 4⁺ T  c e l l s","titleFont":"Liberation Sans","titleFontWeight":"bold","titleFontSize":9.5,"titleX":-28.3,"titleY":121}}},
"layer":[
{"data":{"name":"bars"},"transform":[{"filter":"datum.panel=='B'&&datum.pct>=10"}],"mark":{"type":"bar"},"encoding":{"y2":{"datum":10},"color":{"field":"series","type":"nominal","scale":{"domain":["Treg","Treg+but 250μM","Treg+prop 250μM"],"range":["#000000","#9c9c9f","#7f7f7f"]},"legend":{"orient":"none","legendX":587.3,"legendY":35,"title":null,"padding":0,"symbolType":"M-2,-0.6H2V0.6H-2Z","symbolSize":64,"symbolStrokeWidth":0,"labelOffset":10.7,"labelFont":"Liberation Sans","labelFontWeight":"bold","labelFontSize":5.5,"labelColor":"#222","labelLimit":200,"rowPadding":3,"labelExpr":"join(split(datum.label,''),' ')"}}}},
{"data":{"name":"bars"},"transform":[{"filter":"datum.panel=='B'&&datum.pct>=10"}],"mark":{"type":"rule","color":"black","strokeWidth":1.5},"encoding":{"y2":{"field":"hi"}}},
{"data":{"name":"bars"},"transform":[{"filter":"datum.panel=='B'&&datum.pct>=10"},{"calculate":"datum.hi","as":"pct"}],"mark":{"type":"tick","color":"black","orient":"horizontal","size":10,"thickness":1.5}},
{"data":{"name":"brackets"},"transform":[{"filter":"datum.panel=='B'"},{"fold":["from","to"],"as":["end","series"]}],"mark":{"type":"line","color":"#333","strokeWidth":0.8},"encoding":{"detail":{"field":"id"}}},
{"data":{"name":"brackets"},"transform":[{"filter":"datum.panel=='B'&&datum.span==1"},{"calculate":"join(split(datum.label,''),' ')","as":"t"}],"mark":{"type":"text","font":"Liberation Sans","fontWeight":"bold","fontSize":5,"dx":10.9,"dy":-3,"color":"#222"},"encoding":{"xOffset":{"field":"from","type":"nominal"},"text":{"field":"t"}}},
{"data":{"name":"brackets"},"transform":[{"filter":"datum.panel=='B'&&datum.span==2"},{"calculate":"join(split(datum.label,''),' ')","as":"t"}],"mark":{"type":"text","font":"Liberation Sans","fontWeight":"bold","fontSize":5,"dx":21.8,"dy":-3,"color":"#222"},"encoding":{"xOffset":{"field":"from","type":"nominal"},"text":{"field":"t"}}},
{"data":{"name":"letters"},"transform":[{"filter":"datum.panel=='B'"}],"mark":{"type":"text","font":"Liberation Sans","fontWeight":"bold","fontSize":10,"dx":-43,"color":"black"},"encoding":{"xOffset":{"field":"from","type":"nominal"},"text":{"field":"label"}}}
]},
{"encoding":{"y":{"field":"pct","type":"quantitative","stack":null,"scale":{"domain":[0,3],"range":[186.3,149.7],"clamp":true},"axis":{"orient":"left","offset":-370,"values":[0,1,2,3],"labelFont":"Liberation Sans","labelFontWeight":"bold","labelFontSize":8,"labelColor":"black","labelPadding":2,"tickSize":6,"tickWidth":1.5,"tickColor":"black","domainColor":"black","domainWidth":1.5}}},
"layer":[
{"data":{"name":"bars"},"transform":[{"filter":"datum.panel=='B'"}],"mark":{"type":"bar"},"encoding":{"y2":{"datum":0},"color":{"field":"series","type":"nominal","scale":{"domain":["Treg","Treg+but 250μM","Treg+prop 250μM"],"range":["#000000","#9c9c9f","#7f7f7f"]},"legend":null}}},
{"data":{"name":"bars"},"transform":[{"filter":"datum.panel=='B'&&datum.pct<10"}],"mark":{"type":"rule","color":"black","strokeWidth":1.5},"encoding":{"y2":{"field":"hi"}}},
{"data":{"name":"bars"},"transform":[{"filter":"datum.panel=='B'&&datum.pct<10"},{"calculate":"datum.hi","as":"pct"}],"mark":{"type":"tick","color":"black","orient":"horizontal","size":10,"thickness":1.5}}
]}
]},
{"encoding":{
"x":{"field":"group","type":"nominal","sort":null,"scale":{"domain":["FOXP3+","FOXP3+IL-10+","IL-10+"],"range":[362,602.9],"paddingInner":0,"paddingOuter":0},"axis":{"orient":"bottom","offset":-15.7,"labelAngle":0,"labelFont":"Liberation Sans","labelFontWeight":"bold","labelFontSize":7,"labelColor":"black","labelPadding":4,"tickSize":4,"tickWidth":1.5,"tickColor":"black","domainColor":"black","domainWidth":1.5,"labelExpr":"join(split(datum.label,''),' ')"}},
"xOffset":{"field":"series","type":"nominal","scale":{"domain":["Treg","Treg+but 250μM","Treg+prop 250μM"],"range":[9.6,70.3],"paddingInner":0.235,"paddingOuter":0}}
},
"resolve":{"scale":{"y":"independent"},"axis":{"y":"independent"}},
"layer":[
{"encoding":{"y":{"field":"pct","type":"quantitative","stack":null,"scale":{"domain":[10,90],"range":[372.3,286.7]},"axis":{"orient":"left","offset":-365,"values":[10,30,50,70,90],"labelFont":"Liberation Sans","labelFontWeight":"bold","labelFontSize":8,"labelColor":"black","labelPadding":2,"tickSize":6,"tickWidth":1.5,"tickColor":"black","domainColor":"black","domainWidth":1.5,"title":"% C D 4⁺ T  c e l l s","titleFont":"Liberation Sans","titleFontWeight":"bold","titleFontSize":9.5,"titleX":-28,"titleY":353}}},
"layer":[
{"data":{"name":"bars"},"transform":[{"filter":"datum.panel=='C'&&datum.pct>=10"}],"mark":{"type":"bar"},"encoding":{"y2":{"datum":10},"color":{"field":"series","type":"nominal","scale":{"domain":["Treg","Treg+but 250μM","Treg+prop 250μM"],"range":["#000000","#9c9c9f","#7f7f7f"]},"legend":{"orient":"none","legendX":582.3,"legendY":267,"title":null,"padding":0,"symbolType":"M-2,-0.6H2V0.6H-2Z","symbolSize":64,"symbolStrokeWidth":0,"labelOffset":10.7,"labelFont":"Liberation Sans","labelFontWeight":"bold","labelFontSize":5.5,"labelColor":"#222","labelLimit":200,"rowPadding":3,"labelExpr":"join(split(datum.label,''),' ')"}}}},
{"data":{"name":"bars"},"transform":[{"filter":"datum.panel=='C'&&datum.pct>=10"}],"mark":{"type":"rule","color":"black","strokeWidth":1.5},"encoding":{"y2":{"field":"hi"}}},
{"data":{"name":"bars"},"transform":[{"filter":"datum.panel=='C'&&datum.pct>=10"},{"calculate":"datum.hi","as":"pct"}],"mark":{"type":"tick","color":"black","orient":"horizontal","size":10,"thickness":1.5}},
{"data":{"name":"brackets"},"transform":[{"filter":"datum.panel=='C'"},{"fold":["from","to"],"as":["end","series"]}],"mark":{"type":"line","color":"#333","strokeWidth":0.8},"encoding":{"detail":{"field":"id"}}},
{"data":{"name":"brackets"},"transform":[{"filter":"datum.panel=='C'&&datum.span==1"},{"calculate":"join(split(datum.label,''),' ')","as":"t"}],"mark":{"type":"text","font":"Liberation Sans","fontWeight":"bold","fontSize":5,"dx":10.9,"dy":-3,"color":"#222"},"encoding":{"xOffset":{"field":"from","type":"nominal"},"text":{"field":"t"}}},
{"data":{"name":"brackets"},"transform":[{"filter":"datum.panel=='C'&&datum.span==2"},{"calculate":"join(split(datum.label,''),' ')","as":"t"}],"mark":{"type":"text","font":"Liberation Sans","fontWeight":"bold","fontSize":5,"dx":21.8,"dy":-3,"color":"#222"},"encoding":{"xOffset":{"field":"from","type":"nominal"},"text":{"field":"t"}}},
{"data":{"name":"letters"},"transform":[{"filter":"datum.panel=='C'"}],"mark":{"type":"text","font":"Liberation Sans","fontWeight":"bold","fontSize":10,"dx":-39,"color":"black"},"encoding":{"xOffset":{"field":"from","type":"nominal"},"text":{"field":"label"}}}
]},
{"encoding":{"y":{"field":"pct","type":"quantitative","stack":null,"scale":{"domain":[0,3],"range":[419.3,382.7],"clamp":true},"axis":{"orient":"left","offset":-365,"values":[0,1,2,3],"labelFont":"Liberation Sans","labelFontWeight":"bold","labelFontSize":8,"labelColor":"black","labelPadding":2,"tickSize":6,"tickWidth":1.5,"tickColor":"black","domainColor":"black","domainWidth":1.5}}},
"layer":[
{"data":{"name":"bars"},"transform":[{"filter":"datum.panel=='C'"}],"mark":{"type":"bar"},"encoding":{"y2":{"datum":0},"color":{"field":"series","type":"nominal","scale":{"domain":["Treg","Treg+but 250μM","Treg+prop 250μM"],"range":["#000000","#9c9c9f","#7f7f7f"]},"legend":null}}},
{"data":{"name":"bars"},"transform":[{"filter":"datum.panel=='C'&&datum.pct<10"}],"mark":{"type":"rule","color":"black","strokeWidth":1.5},"encoding":{"y2":{"field":"hi"}}},
{"data":{"name":"bars"},"transform":[{"filter":"datum.panel=='C'&&datum.pct<10"},{"calculate":"datum.hi","as":"pct"}],"mark":{"type":"tick","color":"black","orient":"horizontal","size":10,"thickness":1.5}}
]}
]}
]
}
